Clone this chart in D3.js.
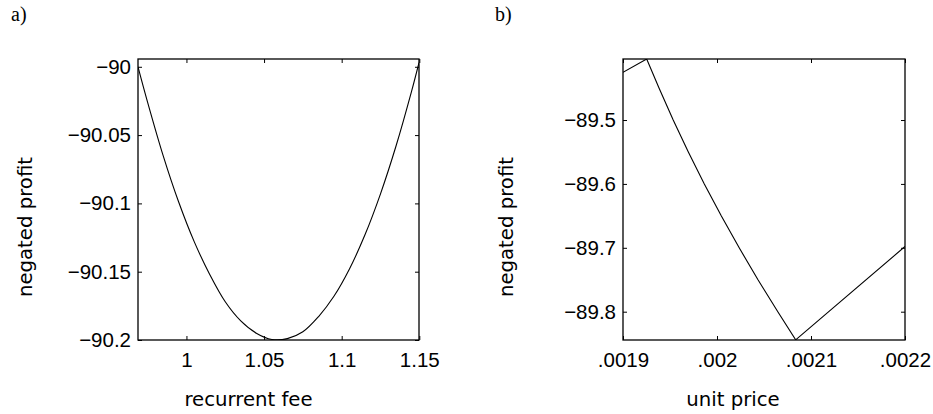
<!DOCTYPE html>
<html>
<head>
<meta charset="utf-8">
<script src="https://cdn.jsdelivr.net/npm/d3@7"></script>
<style>
  body { margin: 0; background: #fff; }
  .tick-label { font-family: "Liberation Sans", Arial, sans-serif; font-size: 20.5px; fill: #000; }
  .axis-title { font-family: "DejaVu Sans", sans-serif; font-size: 19.7px; fill: #000; }
  .panel-tag { font-family: "Liberation Serif", serif; font-size: 20px; fill: #000; }
</style>
</head>
<body>
<svg id="chart" width="933" height="414"></svg>
<script>
// panel a) recurrent fee vs negated profit
var feeValues = [0.9688, 0.975, 0.985, 0.995, 1.005, 1.015, 1.025, 1.035, 1.045, 1.055, 1.065, 1.075, 1.085, 1.095, 1.105, 1.115, 1.125, 1.135, 1.145, 1.1498];
var feeProfit = [-90.000, -90.026, -90.065, -90.099, -90.128, -90.152, -90.172, -90.186, -90.195, -90.1996, -90.199, -90.194, -90.183, -90.168, -90.148, -90.123, -90.093, -90.058, -90.018, -89.997];
var feeTicks = [1, 1.05, 1.1, 1.15];
var feeTickLabels = ["1", "1.05", "1.1", "1.15"];
var feeProfitTicks = [-90, -90.05, -90.1, -90.15, -90.2];
var feeProfitTickLabels = ["\u221290", "\u221290.05", "\u221290.1", "\u221290.15", "\u221290.2"];

// panel b) unit price vs negated profit
var priceValues = [0.0019, 0.0019252, 0.0019383, 0.0019534, 0.0019695, 0.0019865, 0.0020045, 0.0020236, 0.0020436, 0.0020647, 0.0020837, 0.0022];
var priceProfit = [-89.4254, -89.4045, -89.45, -89.5, -89.55, -89.6, -89.65, -89.7, -89.75, -89.8, -89.844, -89.698];
var priceTicks = [0.0019, 0.002, 0.0021, 0.0022];
var priceTickLabels = [".0019", ".002", ".0021", ".0022"];
var priceProfitTicks = [-89.5, -89.6, -89.7, -89.8];
var priceProfitTickLabels = ["\u221289.5", "\u221289.6", "\u221289.7", "\u221289.8"];

var svg = d3.select('#chart');

function panel(cfg) {
  var x = d3.scaleLinear().domain(cfg.xDomain).range([cfg.left, cfg.right]);
  var y = d3.scaleLinear().domain(cfg.yDomain).range([cfg.bottom, cfg.top]);
  var g = svg.append('g');

  //clip
  g.append('clipPath').attr('id', cfg.id + '-clip')
    .append('rect')
    .attr('x', cfg.left).attr('y', cfg.top)
    .attr('width', cfg.right - cfg.left).attr('height', cfg.bottom - cfg.top);

  //curve
  var line = d3.line()
    .x(function (d) { return x(d[0]); })
    .y(function (d) { return y(d[1]); })
    .curve(cfg.curve);
  g.append('path')
    .datum(d3.zip(cfg.xs, cfg.ys))
    .attr('clip-path', 'url(#' + cfg.id + '-clip)')
    .attr('d', line)
    .attr('fill', 'none')
    .attr('stroke', '#000')
    .attr('stroke-width', 1.1);

  //axes, ticks point inward on all four sides
  var xFmt = function (d, i) { return cfg.xLabels[i]; };
  var yFmt = function (d, i) { return cfg.yLabels[i]; };
  g.append('g').attr('transform', 'translate(0,' + cfg.bottom + ')')
    .call(d3.axisBottom(x).tickValues(cfg.xTicks).tickFormat(xFmt).tickSize(-4).tickPadding(12));
  g.append('g').attr('transform', 'translate(' + cfg.left + ',0)')
    .call(d3.axisLeft(y).tickValues(cfg.yTicks).tickFormat(yFmt).tickSize(-4).tickPadding(7));
  g.append('g').attr('transform', 'translate(0,' + cfg.top + ')')
    .call(d3.axisTop(x).tickValues(cfg.xTicks).tickFormat('').tickSize(-4));
  g.append('g').attr('transform', 'translate(' + cfg.right + ',0)')
    .call(d3.axisRight(y).tickValues(cfg.yTicks).tickFormat('').tickSize(-4));

  g.selectAll('.domain').remove();
  g.selectAll('.tick line').attr('stroke', '#000').attr('stroke-width', 1);
  g.selectAll('.tick text').attr('class', 'tick-label');

  //box
  g.append('rect')
    .attr('x', cfg.left).attr('y', cfg.top)
    .attr('width', cfg.right - cfg.left).attr('height', cfg.bottom - cfg.top)
    .attr('fill', 'none')
    .attr('stroke', '#000')
    .attr('stroke-width', 1.3);

  //titles
  g.append('text')
    .attr('class', 'axis-title')
    .attr('x', cfg.xTitleX).attr('y', 406)
    .attr('text-anchor', 'middle')
    .text(cfg.xTitle);
  g.append('text')
    .attr('class', 'axis-title')
    .attr('transform', 'translate(' + cfg.yTitleX + ',227) rotate(-90)')
    .attr('text-anchor', 'middle')
    .text(cfg.yTitle);
  g.append('text')
    .attr('class', 'panel-tag')
    .attr('x', cfg.tagX).attr('y', 20.5)
    .text(cfg.tag);
}

panel({
  id: 'a', tag: 'a)', tagX: 11,
  left: 138, right: 419, top: 59, bottom: 340,
  xDomain: [0.9688, 1.1498], yDomain: [-90.2, -89.9943],
  xs: feeValues, ys: feeProfit, curve: d3.curveCatmullRom,
  xTicks: feeTicks, xLabels: feeTickLabels,
  yTicks: feeProfitTicks, yLabels: feeProfitTickLabels,
  xTitle: 'recurrent fee', xTitleX: 248.5,
  yTitle: 'negated profit', yTitleX: 32
});

panel({
  id: 'b', tag: 'b)', tagX: 495,
  left: 623, right: 905, top: 59, bottom: 340,
  xDomain: [0.0019, 0.0022], yDomain: [-89.8443, -89.4045],
  xs: priceValues, ys: priceProfit, curve: d3.curveLinear,
  xTicks: priceTicks, xLabels: priceTickLabels,
  yTicks: priceProfitTicks, yLabels: priceProfitTickLabels,
  xTitle: 'unit price', xTitleX: 733,
  yTitle: 'negated profit', yTitleX: 513
});
</script>
</body>
</html>
